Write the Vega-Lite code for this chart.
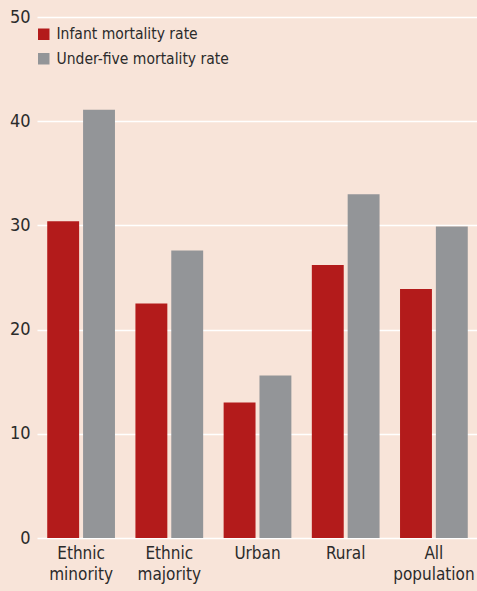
{
  "$schema": "https://vega.github.io/schema/vega-lite/v6.json",
  "width": 441,
  "height": 521,
  "autosize": "none",
  "padding": {"left": 37, "top": 17, "right": 0, "bottom": 53},
  "background": "#f8e4d9",
  "config": {
    "view": {"stroke": null},
    "font": "DejaVu Sans Condensed, Roboto, sans-serif"
  },
  "data": {
    "values": [
      {"group": "Ethnic minority", "series": "Infant mortality rate", "value": 30.4},
      {"group": "Ethnic minority", "series": "Under-five mortality rate", "value": 41.1},
      {"group": "Ethnic majority", "series": "Infant mortality rate", "value": 22.5},
      {"group": "Ethnic majority", "series": "Under-five mortality rate", "value": 27.6},
      {"group": "Urban", "series": "Infant mortality rate", "value": 13.0},
      {"group": "Urban", "series": "Under-five mortality rate", "value": 15.6},
      {"group": "Rural", "series": "Infant mortality rate", "value": 26.2},
      {"group": "Rural", "series": "Under-five mortality rate", "value": 33.0},
      {"group": "All population", "series": "Infant mortality rate", "value": 23.9},
      {"group": "All population", "series": "Under-five mortality rate", "value": 29.9}
    ]
  },
  "mark": {"type": "bar"},
  "encoding": {
    "x": {
      "field": "group", "type": "nominal", "sort": null,
      "scale": {"paddingInner": 0.232, "paddingOuter": 0.116},
      "axis": {
        "title": null, "domain": false, "ticks": false, "labelAngle": 0,
        "labelFontSize": 17, "labelColor": "#2b2b2b", "labelPadding": 7,
        "labelLineHeight": 21,
        "labelExpr": "split(datum.label, ' ')"
      }
    },
    "xOffset": {"field": "series", "type": "nominal", "scale": {"paddingInner": 0.11}},
    "y": {
      "field": "value", "type": "quantitative",
      "scale": {"domain": [0, 50], "nice": false},
      "axis": {
        "title": null, "domain": false, "ticks": false, "values": [0, 10, 20, 30, 40, 50],
        "labelFontSize": 18, "labelColor": "#2b2b2b", "labelPadding": 7,
        "grid": true, "gridColor": "#ffffff", "gridWidth": 1.5
      }
    },
    "color": {
      "field": "series", "type": "nominal",
      "scale": {"range": ["#b31b1b", "#939598"]},
      "legend": {
        "title": null, "orient": "none", "legendX": -1, "legendY": 9.5,
        "symbolType": "square", "symbolSize": 132, "symbolStrokeWidth": 0,
        "symbolOpacity": 1, "labelLimit": 400,
        "labelFontSize": 15.5, "labelColor": "#2b2b2b", "labelOffset": 5,
        "rowPadding": 7.5, "padding": 0
      }
    }
  }
}
